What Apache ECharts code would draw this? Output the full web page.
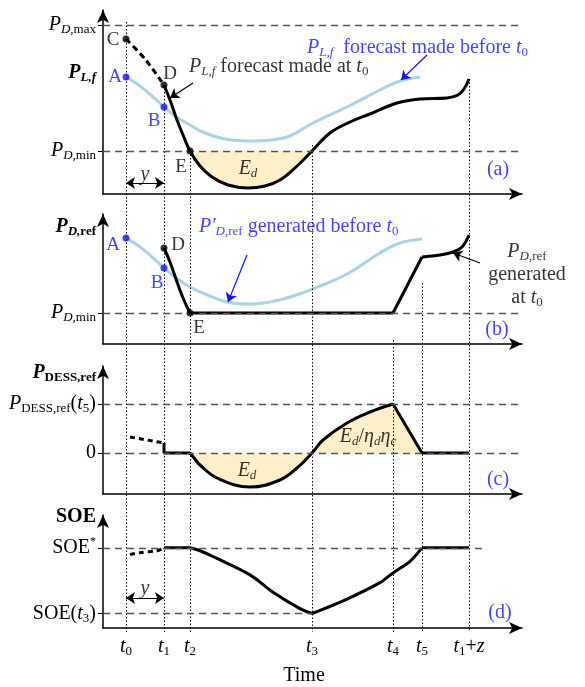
<!DOCTYPE html>
<html>
<head>
<meta charset="utf-8">
<script src="https://cdn.jsdelivr.net/npm/echarts@6/dist/echarts.min.js"></script>
<style>
  html, body { margin: 0; padding: 0; background: #fff; }
  #chart { width: 585px; height: 687px; }
</style>
</head>
<body>
<div id="chart"></div>
<script>
const FONT = 'Liberation Serif';
const BLACK = '#000';
const BLUE = '#1414ff';
const PALE = '#a8d5e3';
const FILL = '#fdefc8';

// shared time axis
const timeEnd = 419;
const timeMarks = [23, 61, 87, 209, 290, 319, 366];
const timeLabels = ['{i|t}{s|0}', '{i|t}{s|1}', '{i|t}{s|2}', '{i|t}{s|3}', '{i|t}{s|4}', '{i|t}{s|5}', '{i|t}{s|1}{r|+}{i|z}'];
// dotted time lines: where each one starts (figure rows, top = 0) and where they all end
const dotFrom = [22, 85, 151, 145, 340, 283, 79];
const dotTo = 632;

// (a) P_L,f
const aLevels = [169, 43];              // P_D,max, P_D,min
const aLevelText = ['{i|P}{si|D,}{s|max}', '{i|P}{si|D,}{s|min}'];
const aOld = [[23,117],[37,108],[49,98],[61,87],[72,78],[87,69],[102,61],[122,55],[145,53],[167,54],[187,58],[210,71],[244,87],[277,104],[297,113],[317,117]];
const aDash = [[23,155],[42,135],[61,109]];
const aNew = [[61,109],[67,94],[74,74],[80,59],[87,43],[97,28],[109,17],[125,9],[145,6],[162,8],[177,14],[193,27],[209,43],[227,61],[247,72],[267,80],[294,91],[317,95],[344,96],[355,99],[361,105],[366,115]];
const aPoints = [[23,155],[61,109],[23,117],[61,87],[87,43]];
const aPointNames = ['C', 'D', 'A', 'B', 'E'];

// (b) P_D,ref
const bLevels = [31];
const bLevelText = ['{i|P}{si|D,}{s|min}'];
const bOld = [[23,106],[37,97],[49,87],[61,76],[72,67],[87,57],[102,50],[124,42],[147,40],[167,42],[187,47],[210,55],[244,70],[277,91],[297,101],[319,105]];
const bDrop = [[61,96],[67,82],[74,62],[80,46],[87,31]];
const bFlat = [[87,31],[290,31],[319,87]];
const bTail = [[319,87],[337,89],[350,92],[359,97],[366,109]];
const bPoints = [[61,96],[23,106],[61,76],[87,31]];
const bPointNames = ['D', 'A', 'B', 'E'];

// (c) P_DESS,ref
const cLevels = [90, 41];
const cLevelText = ['{i|P}{s|DESS,ref}{r|(}{i|t}{s|5}{r|)}', '{r|0}'];
const cDash = [[27,57],[44,54],[61,51]];
const cStep = [[61,51],[61,41],[87,41]];
const cCurve = [[87,41],[91,36],[97,29],[114,16],[147,7],[177,14],[194,26],[209,41],[220,54],[244,71],[267,82],[290,90]];
const cTail = [[290,90],[319,41],[366,41]];

// (d) SOE
const dLevels = [83, 15];
const dLevelText = ['{r|SOE}{sup|*}', '{r|SOE(}{i|t}{s|3}{r|)}'];
const dDash = [[27,76],[37,78],[54,80],[61,83]];
const dFlat = [[61,83],[87,83]];
const dDown = [[87,83],[97,80],[114,72],[147,55],[170,37],[197,20],[209,15]];
const dUp = [[209,15],[244,30],[277,47],[290,57],[307,69],[319,83]];
const dEnd = [[319,83],[366,83]];

function richOf(color) {
  const big = { fontFamily: FONT, fontSize: 20, lineHeight: 23, color };
  const small = { fontFamily: FONT, fontSize: 13, lineHeight: 12, verticalAlign: 'bottom', color };
  return {
    r: big,
    i: Object.assign({}, big, { fontStyle: 'italic' }),
    b: Object.assign({}, big, { fontWeight: 'bold' }),
    bi: Object.assign({}, big, { fontWeight: 'bold', fontStyle: 'italic' }),
    s: small,
    si: Object.assign({}, small, { fontStyle: 'italic' }),
    bs: Object.assign({}, small, { fontWeight: 'bold' }),
    bsi: Object.assign({}, small, { fontWeight: 'bold', fontStyle: 'italic' }),
    sup: { fontFamily: FONT, fontSize: 12, lineHeight: 10, verticalAlign: 'top', color }
  };
}
const richBlack = richOf(BLACK);
const richBlue = richOf(BLUE);

const panels = [
  { top: 10, height: 184, levels: aLevels, texts: aLevelText, name: 121, nameText: '{bi|P}{bsi|L,f}' },
  { top: 214, height: 130, levels: bLevels, texts: bLevelText, name: 117, nameText: '{bi|P}{bsi|D,}{bs|ref}' },
  { top: 366, height: 128, levels: cLevels, texts: cLevelText, name: 121, nameText: '{bi|P}{bs|DESS,ref}' },
  { top: 515, height: 117, levels: dLevels, texts: dLevelText, name: 115, nameText: '{b|SOE}' }
];

const axisLine = { color: BLACK, width: 1.5 };
const grid = panels.map(p => ({ left: 103, width: 419, top: p.top, height: p.height }));
grid.push({ left: 103, width: 419, top: 0, height: 640 });

const xAxis = panels.map((p, i) => ({
  gridIndex: i, type: 'value', min: 0, max: timeEnd,
  axisLine: { show: true, symbol: ['none', 'arrow'], symbolSize: [9, 13], lineStyle: axisLine },
  axisTick: { show: false },
  splitLine: { show: false },
  axisLabel: {
    show: i === 3, customValues: timeMarks, margin: 7, color: BLACK, rich: richBlack,
    formatter: v => { const k = timeMarks.indexOf(v); return k < 0 ? '' : timeLabels[k]; }
  },
  name: i === 3 ? 'Time' : '', nameLocation: 'middle', nameGap: 38,
  nameTextStyle: { fontFamily: FONT, fontSize: 20, color: BLACK, padding: [0, 17, 0, 0] }
}));
xAxis.push({ gridIndex: 4, type: 'value', min: 0, max: timeEnd, show: false });

const yAxis = panels.map((p, i) => {
  const vals = p.levels.concat([p.name]);
  const texts = p.texts.concat([p.nameText]);
  return {
    gridIndex: i, type: 'value', min: 0, max: p.height,
    axisLine: { show: true, symbol: ['none', 'arrow'], symbolSize: [9, 13], lineStyle: axisLine },
    axisTick: { show: true, customValues: p.levels, length: 5, lineStyle: { color: BLACK } },
    splitLine: { show: false },
    axisLabel: {
      customValues: vals, margin: 7, color: BLACK, rich: richBlack,
      formatter: v => { const k = vals.indexOf(v); return k < 0 ? '' : texts[k]; }
    }
  };
});
yAxis.push({ gridIndex: 4, type: 'value', min: 0, max: 640, inverse: true, show: false });

function curve(gi, data, extra) {
  return Object.assign({
    type: 'line', xAxisIndex: gi, yAxisIndex: gi, data, symbol: 'none', silent: true, z: 4,
    lineStyle: { color: BLACK, width: 3 }
  }, extra);
}
function fill(gi, data, origin, smooth) {
  return {
    type: 'line', xAxisIndex: gi, yAxisIndex: gi, data, symbol: 'none', silent: true, z: 1, smooth,
    lineStyle: { width: 0 }, areaStyle: { color: FILL, opacity: 1, origin }
  };
}
function dashed(gi, lines) {
  return {
    type: 'line', xAxisIndex: gi, yAxisIndex: gi, data: [], silent: true, z: 2,
    markLine: {
      silent: true, symbol: ['none', 'none'], label: { show: false }, animation: false,
      lineStyle: { color: '#555', width: 1.3, type: [7, 5] },
      data: lines.map(l => [{ coord: [l[0], l[2]] }, { coord: [l[1], l[2]] }])
    }
  };
}
function arrows(gi, list, color, both) {
  return {
    type: 'line', xAxisIndex: gi, yAxisIndex: gi, data: [], silent: true, z: 5,
    markLine: {
      silent: true, symbol: both ? ['arrow', 'arrow'] : ['none', 'arrow'], symbolSize: 9,
      label: { show: false }, animation: false,
      lineStyle: { color, width: 1.2, type: 'solid' },
      data: list.map(a => [{ coord: a[0] }, { coord: a[1] }])
    }
  };
}
function points(gi, xy, names, colors, offsets) {
  return {
    type: 'scatter', xAxisIndex: gi, yAxisIndex: gi, symbolSize: 7, silent: true, z: 6,
    data: xy.map((v, k) => ({
      value: v, itemStyle: { color: colors[k] },
      label: { show: true, position: 'inside', offset: offsets[k], formatter: names[k],
               color: colors[k], textBorderWidth: 0, fontFamily: FONT, fontSize: 19 }
    }))
  };
}
function notes(gi, list) {
  return {
    type: 'scatter', xAxisIndex: gi, yAxisIndex: gi, symbolSize: 0, silent: true, z: 6, clip: false,
    data: list.map(n => ({
      value: n.at,
      label: { show: true, position: n.left ? 'right' : 'inside', distance: 0, textBorderWidth: 0,
               formatter: n.text, color: n.color || BLACK, rich: n.color === BLUE ? richBlue : richBlack,
               align: n.left ? 'left' : 'center' }
    }))
  };
}

const between = (d, a, b) => d.filter(p => p[0] >= a && p[0] <= b);

const series = [
  // dotted time lines over the whole figure
  {
    type: 'line', xAxisIndex: 4, yAxisIndex: 4, data: [], silent: true, z: 2,
    markLine: {
      silent: true, symbol: ['none', 'none'], label: { show: false }, animation: false,
      lineStyle: { color: BLACK, width: 1, type: [1.5, 2] },
      data: timeMarks.map((t, k) => [{ coord: [t, dotFrom[k]] }, { coord: [t, dotTo] }])
    }
  },

  // (a)
  fill(0, between(aNew, 87, 209), aLevels[1], 0.4),
  dashed(0, [[0, timeEnd, aLevels[0]], [0, timeEnd, aLevels[1]]]),
  curve(0, aOld, { smooth: 0.4, lineStyle: { color: PALE, width: 3 }, z: 3 }),
  curve(0, aDash, { smooth: 0.3, lineStyle: { color: BLACK, width: 3, type: [6, 4] } }),
  curve(0, aNew, { smooth: 0.4 }),
  points(0, aPoints, aPointNames, [BLACK, BLACK, BLUE, BLUE, BLACK],
         [[-13, 1], [6, -11], [-11, 0], [-10, 14], [-9, 16]]),
  arrows(0, [[[90, 111], [67, 96]]], BLACK),
  arrows(0, [[[324, 139], [298, 114]]], BLUE),
  arrows(0, [[[23, 11], [61, 11]]], BLACK, true),
  notes(0, [
    { at: [86, 127], left: true, text: '{i|P}{si|L,f}{r| forecast made at }{i|t}{s|0}' },
    { at: [204, 146], left: true, color: BLUE, text: '{i|P}{si|L,f}{r|  forecast made before }{i|t}{s|0}' },
    { at: [145, 25], text: '{i|E}{si|d}' },
    { at: [395, 24], color: BLUE, text: '{r|(a)}' },
    { at: [42, 19], text: '{i|y}' }
  ]),

  // (b)
  dashed(1, [[0, timeEnd, bLevels[0]]]),
  curve(1, bOld, { smooth: 0.4, lineStyle: { color: PALE, width: 3 }, z: 3 }),
  curve(1, bDrop, { smooth: 0.4 }),
  curve(1, bFlat),
  curve(1, bTail, { smooth: 0.4 }),
  points(1, bPoints, bPointNames, [BLACK, BLUE, BLUE, BLACK],
         [[14, -3], [-13, 7], [-7, 15], [9, 15]]),
  arrows(1, [[[144, 89], [125, 42]]], BLUE),
  arrows(1, [[[377, 81], [350, 91]]], BLACK),
  notes(1, [
    { at: [96, 117], left: true, color: BLUE, text: '{i|P′}{si|D,}{s|ref}{r| generated before }{i|t}{s|0}' },
    { at: [424, 69], text: '{i|P}{si|D,}{s|ref}\n{r|generated}\n{r|at }{i|t}{s|0}' },
    { at: [394, 14], color: BLUE, text: '{r|(b)}' }
  ]),

  // (c)
  fill(2, cCurve, cLevels[1], 0.4),
  fill(2, cTail.slice(0, 2), cLevels[1], false),
  dashed(2, [[0, timeEnd, cLevels[0]], [0, timeEnd, cLevels[1]]]),
  curve(2, cDash, { lineStyle: { color: BLACK, width: 3, type: [5, 4] } }),
  curve(2, cStep),
  curve(2, cCurve, { smooth: 0.4 }),
  curve(2, cTail),
  notes(2, [
    { at: [144, 23], text: '{i|E}{si|d}' },
    { at: [265, 57], text: '{i|E}{si|d}{r|/}{i|η}{si|d}{i|η}{si|c}' },
    { at: [395, 14], color: BLUE, text: '{r|(c)}' }
  ]),

  // (d)
  dashed(3, [[0, 384, dLevels[0]], [0, 209, dLevels[1]]]),
  curve(3, dDash, { smooth: 0.3, lineStyle: { color: BLACK, width: 3, type: [5, 4] } }),
  curve(3, dFlat),
  curve(3, dDown, { smooth: 0.4 }),
  curve(3, dUp, { smooth: 0.3 }),
  curve(3, dEnd),
  arrows(3, [[[23, 31], [61, 31]]], BLACK, true),
  notes(3, [
    { at: [42, 41], text: '{i|y}' },
    { at: [397, 16], color: BLUE, text: '{r|(d)}' }
  ])
];

const chart = echarts.init(document.getElementById('chart'), null, { renderer: 'canvas' });
chart.setOption({
  animation: false,
  backgroundColor: '#fff',
  textStyle: { fontFamily: FONT },
  grid, xAxis, yAxis, series
});
</script>
</body>
</html>
